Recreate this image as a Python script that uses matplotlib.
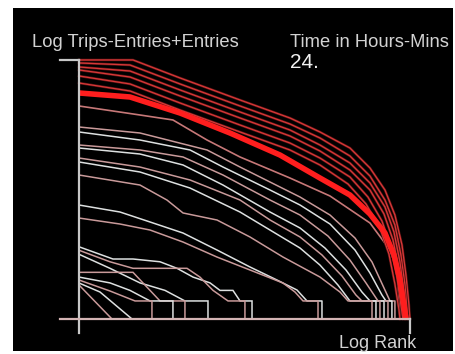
import matplotlib
matplotlib.use("Agg")
import matplotlib.pyplot as plt

# ---- data: log10(rank) vs log10(trips) per time slice ----
red_x = [
    [0, 0.45, 0.842, 1.342, 1.758, 2.008, 2.258, 2.425, 2.55, 2.633, 2.692, 2.725, 2.75, 2.758],
    [0, 0.425, 0.842, 1.342, 1.758, 2.008, 2.258, 2.425, 2.55, 2.633, 2.683, 2.717, 2.733, 2.742],
    [0, 0.425, 0.842, 1.342, 1.758, 2.008, 2.258, 2.425, 2.55, 2.625, 2.675, 2.708, 2.725],
    [0, 0.425, 0.842, 1.342, 1.758, 2.008, 2.258, 2.425, 2.542, 2.617, 2.667, 2.7, 2.717],
    [0, 0.425, 0.842, 1.342, 1.758, 2.008, 2.258, 2.408, 2.525, 2.6, 2.65, 2.683, 2.7],
    [0, 0.425, 0.842, 1.342, 1.758, 2.008, 2.242, 2.392, 2.508, 2.583, 2.633, 2.667, 2.675],
]
red_y = [
    [4.317, 4.317, 4.017, 3.65, 3.35, 3.117, 2.85, 2.517, 2.15, 1.733, 1.233, 0.733, 0.233, 0],
    [4.267, 4.233, 3.917, 3.55, 3.25, 3.017, 2.717, 2.383, 1.983, 1.567, 1.067, 0.567, 0.15, 0],
    [4.2, 4.133, 3.817, 3.45, 3.15, 2.9, 2.6, 2.267, 1.867, 1.45, 0.95, 0.45, 0],
    [4.15, 4.033, 3.717, 3.35, 3.05, 2.8, 2.483, 2.15, 1.75, 1.317, 0.817, 0.317, 0],
    [4.05, 3.917, 3.6, 3.233, 2.933, 2.683, 2.367, 2.033, 1.633, 1.2, 0.7, 0.233, 0],
    [3.933, 3.8, 3.483, 3.117, 2.817, 2.567, 2.25, 1.917, 1.517, 1.083, 0.583, 0.15, 0],
]
# current hour (highlighted)
cur_x = [0, 0.425, 0.842, 1.258, 1.675, 2.008, 2.258, 2.425, 2.55, 2.625, 2.675, 2.708, 2.725]
cur_y = [3.767, 3.7, 3.433, 3.1, 2.733, 2.35, 2.067, 1.75, 1.433, 1.067, 0.65, 0.233, 0]
# previous hour (fading)
prev_x = [0, 0.508, 0.783, 1.067, 1.342, 1.758, 2.092, 2.425, 2.592, 2.65, 2.667, 2.675]
prev_y = [3.55, 3.4, 3.317, 2.983, 2.7, 2.35, 2.05, 1.6, 1.15, 0.817, 0.317, 0]

mid_x = [
    [0, 0.508, 1.067, 1.342, 1.592, 1.842, 2.092, 2.3, 2.442, 2.542, 2.592, 2.633, 2.633],
    [0, 0.508, 0.925, 1.2, 1.592, 1.842, 2.092, 2.3, 2.425, 2.525, 2.558, 2.608, 2.608],
    [0, 0.508, 0.867, 1.2, 1.592, 1.842, 2.075, 2.258, 2.392, 2.492, 2.575, 2.575],
    [0, 0.508, 0.867, 1.2, 1.592, 1.842, 2.05, 2.225, 2.358, 2.425, 2.542, 2.542],
    [0, 0.508, 0.925, 1.342, 1.592, 1.842, 2.025, 2.192, 2.308, 2.358, 2.508, 2.508],
    [0, 0.508, 0.925, 1.342, 1.592, 1.842, 2.008, 2.158, 2.258, 2.475, 2.475],
    [0, 0.508, 0.733, 0.867, 1.15, 1.425, 1.7, 2.008, 2.175, 2.242, 2.442, 2.442],
    [0, 0.342, 0.592, 0.867, 1.15, 1.425, 1.65, 1.817, 1.9, 2.025, 2.025],
    [0, 0.342, 0.592, 0.867, 1.15, 1.425, 1.7, 1.8, 1.867, 1.992, 1.992],
]
mid_y = [
    [3.2, 3.1, 2.817, 2.533, 2.283, 2.033, 1.733, 1.35, 0.95, 0.517, 0.301, 0.301, 0],
    [3.117, 2.983, 2.817, 2.533, 2.15, 1.9, 1.583, 1.15, 0.767, 0.4, 0.301, 0.301, 0],
    [2.9, 2.817, 2.7, 2.4, 1.983, 1.733, 1.383, 0.983, 0.6, 0.301, 0.301, 0],
    [2.85, 2.75, 2.567, 2.233, 1.783, 1.517, 1.183, 0.817, 0.45, 0.301, 0.301, 0],
    [2.683, 2.533, 2.317, 1.983, 1.65, 1.367, 1.067, 0.717, 0.4, 0.301, 0.301, 0],
    [2.617, 2.45, 2.183, 1.783, 1.483, 1.183, 0.9, 0.567, 0.301, 0.301, 0],
    [2.4, 2.233, 1.983, 1.767, 1.65, 1.367, 1.033, 0.7, 0.45, 0.301, 0.301, 0],
    [1.9, 1.783, 1.617, 1.433, 1.15, 0.867, 0.65, 0.483, 0.301, 0.301, 0],
    [1.683, 1.583, 1.483, 1.283, 1.033, 0.817, 0.6, 0.45, 0.301, 0.301, 0],
]

low_x = [
    [0, 0.283, 0.45, 0.675, 0.817, 0.95, 1.092, 1.175, 1.283, 1.342, 1.442, 1.442],
    [0, 0.258, 0.45, 0.9, 1.008, 1.117, 1.242, 1.383, 1.383],
    [0, 0.258, 0.508, 0.717, 0.883, 1.075, 1.075],
    [0, 0.45, 0.592, 0.675, 0.883, 0.883],
    [0, 0.258, 0.425, 0.592, 0.783, 0.783],
    [0, 0.258, 0.467, 0.608, 0.608],
    [0, 0.175, 0.442],
    [0, 0.275],
]
low_y = [
    [1.204, 1.0, 1.0, 0.954, 0.845, 0.699, 0.602, 0.477, 0.477, 0.301, 0.301, 0],
    [1.146, 0.954, 0.845, 0.845, 0.699, 0.477, 0.301, 0.301, 0],
    [1.079, 0.845, 0.602, 0.477, 0.301, 0.301, 0],
    [0.778, 0.778, 0.477, 0.301, 0.301, 0],
    [0.699, 0.602, 0.477, 0.301, 0.301, 0],
    [0.65, 0.467, 0.301, 0.301, 0],
    [0.6, 0.45, 0],
    [0.567, 0],
]

y_label = "Log Trips-Entries+Entries"
x_label = "Log Rank"
time_label = "Time in Hours-Mins"
time_value = "24."
x_max = 2.758
y_max = 4.317

# ---- figure ----
W, H = 455, 354
fig = plt.figure(figsize=(W / 100, H / 100), dpi=100, facecolor="white")
L, R, T, B = 13, 453, 8, 351
ax = fig.add_axes([L / W, 1 - B / H, (R - L) / W, (B - T) / H])
ax.set_facecolor("black")
ax.set_xlim(-0.55, 3.117)
ax.set_ylim(-0.533, 5.183)
for s in ax.spines.values():
    s.set_visible(False)
ax.set_xticks([])
ax.set_yticks([])

white = "#dde0e0"
pink = "#c99a9a"
for i, (xs, ys) in enumerate(zip(low_x, low_y)):
    ax.plot(xs, ys, color=white if i % 2 == 0 else pink, lw=1.1, solid_joinstyle="miter")
for i, (xs, ys) in enumerate(zip(mid_x, mid_y)):
    ax.plot(xs, ys, color=pink if i % 2 == 0 else white, lw=1.1)
ax.plot(prev_x, prev_y, color="#c77878", lw=1.2)
for xs, ys in zip(red_x, red_y):
    ax.plot(xs, ys, color="#5a1414", lw=1.8)
    ax.plot(xs, ys, color="#d83838", lw=0.9)
ax.plot(cur_x, cur_y, color="#ff1e1e", lw=4.0, solid_capstyle="butt")

# axes lines
ax.plot([0, 0], [-0.233, y_max], color="#c8c8c8", lw=1.6)
ax.plot([-0.158, 0], [y_max, y_max], color="#c8c8c8", lw=1.6)
ax.plot([-0.158, x_max], [0, 0], color="#d4b4b4", lw=1.6)
ax.plot([x_max, x_max], [0, -0.233], color="#c8c8c8", lw=1.6)

fam = ["Liberation Sans", "DejaVu Sans"]
tc = "#d2d2d2"
fig.text(32 / W, 1 - 47 / H, y_label, color=tc, fontsize=13.2, family=fam, va="baseline", ha="left")
fig.text(290 / W, 1 - 47 / H, time_label, color=tc, fontsize=13.2, family=fam, va="baseline", ha="left")
fig.text(290 / W, 1 - 68 / H, time_value, color="#f0f0f0", fontsize=15, family=fam, va="baseline", ha="left")
fig.text(416 / W, 1 - 348 / H, x_label, color=tc, fontsize=13, family=fam, va="baseline", ha="right")

fig.savefig("out.png", dpi=100, facecolor="white")
